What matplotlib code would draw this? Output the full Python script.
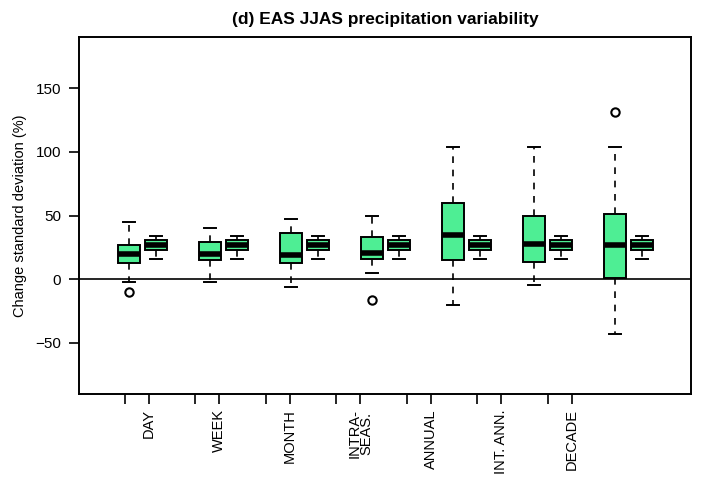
import matplotlib.pyplot as plt
import numpy as np

plt.rcParams['font.family'] = ['Liberation Sans', 'DejaVu Sans']

# Timescale categories (tick labels)
categories = ["DAY", "WEEK", "MONTH", "INTRA-\nSEAS.", "ANNUAL", "INT. ANN.", "DECADE"]

# Wide (green) boxes: lower whisker, Q1, median, Q3, upper whisker, outliers
big_low = [-2, -2, -6, 5, -20, -4.5, -43]
big_q1 = [12.5, 15, 13, 15.5, 15, 13.5, 1]
big_med = [19.5, 20, 19, 20.5, 35, 28, 27]
big_q3 = [27, 29, 36, 33.5, 60, 50, 51]
big_high = [45, 40, 47.5, 50, 104, 104, 104]
big_fliers = [[-10], [], [], [-16.5], [], [], [131.5]]

# Narrow-range boxes next to each
small_low = [16, 16, 16, 16, 16, 16, 16]
small_q1 = [23, 23, 23, 23, 23, 23, 23]
small_med = [27, 27, 27, 27, 27, 27, 27]
small_q3 = [31, 31, 31, 31, 31, 31, 31]
small_high = [34, 34, 34, 34, 34, 34, 34]

n = len(categories)
big_pos = 1.85 + 3 * np.arange(n)
small_pos = big_pos + 1
tick_a = 1.70 + 2.61 * np.arange(n)
tick_b = 2.59 + 2.61 * np.arange(n)

stats = []
positions = []
for i in range(n):
    stats.append(dict(whislo=big_low[i], q1=big_q1[i], med=big_med[i], q3=big_q3[i],
                      whishi=big_high[i], fliers=big_fliers[i]))
    positions.append(big_pos[i])
    stats.append(dict(whislo=small_low[i], q1=small_q1[i], med=small_med[i], q3=small_q3[i],
                      whishi=small_high[i], fliers=[]))
    positions.append(small_pos[i])

fig = plt.figure(figsize=(7.03, 4.79), dpi=100)
ax = fig.add_axes([79 / 703, 85 / 479, 612 / 703, 357 / 479])

ax.axhline(0, color='black', lw=1.2, zorder=1)

bp = ax.bxp(stats, positions=positions, widths=0.83, patch_artist=True,
            boxprops=dict(facecolor='#4EEE94', edgecolor='black', linewidth=1.4),
            medianprops=dict(color='black', linewidth=4),
            whiskerprops=dict(color='black', linewidth=1.2, linestyle=(0, (4, 4))),
            capprops=dict(color='black', linewidth=1.4),
            flierprops=dict(marker='o', markerfacecolor='none', markeredgecolor='black',
                            markersize=6, markeredgewidth=1.5),
            manage_ticks=False, zorder=2)

ax.set_xlim(0, 612 / 27)
ax.set_ylim(-90, 190)
ax.set_yticks([-50, 0, 50, 100, 150])
ax.set_yticklabels(["\u221250", "0", "50", "100", "150"])

ticks = np.sort(np.concatenate([tick_a, tick_b]))
ax.set_xticks(ticks)
labels = []
for c in categories:
    labels += ["", c]
ax.set_xticklabels(labels, rotation=90, va='top', ha='center', linespacing=0.85)

ax.tick_params(direction='out', length=7, width=1.2, pad=6)
ax.tick_params(axis='y', labelsize=11)
ax.tick_params(axis='x', labelsize=10.5, pad=4)
for s in ax.spines.values():
    s.set_linewidth(1.4)

ax.set_ylabel("Change standard deviation (%)", fontsize=10.5, labelpad=6)
ax.set_title("(d) EAS JJAS precipitation variability", fontsize=12.5,
             fontweight='bold', pad=9)

fig.savefig("out.png", dpi=100)
